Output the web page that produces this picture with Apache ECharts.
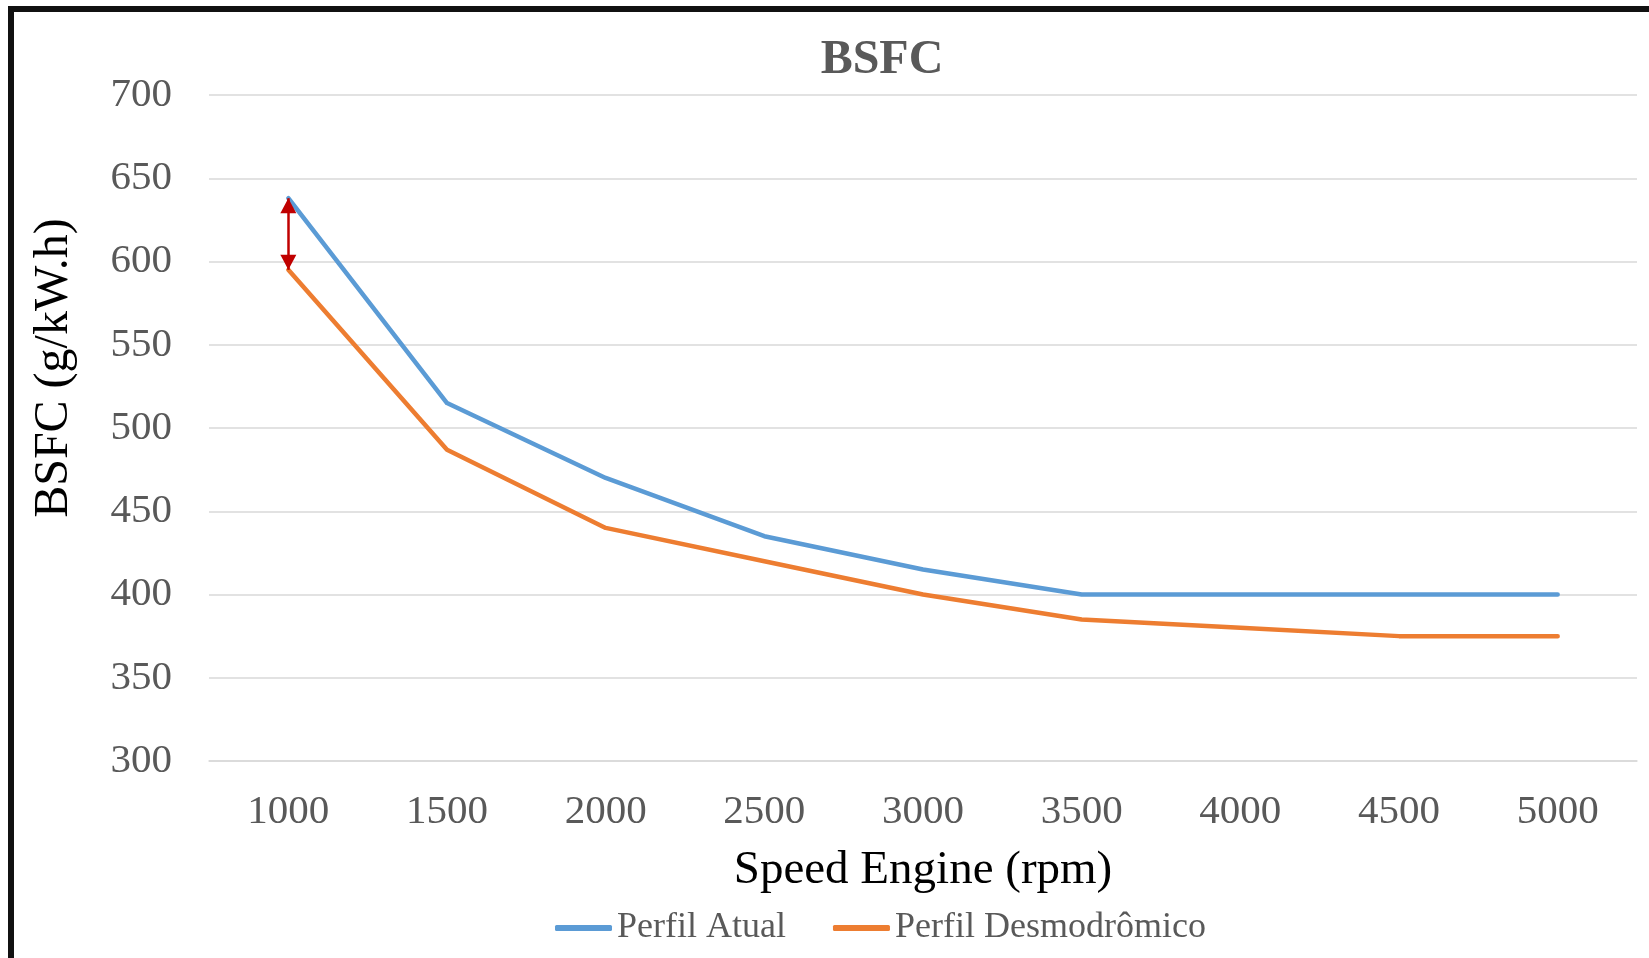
<!DOCTYPE html>
<html>
<head>
<meta charset="utf-8">
<script src="https://cdn.jsdelivr.net/npm/echarts@6/dist/echarts.min.js"></script>
<style>
  html, body { margin: 0; padding: 0; background: #fff; }
  #chart { width: 1649px; height: 958px; }
</style>
</head>
<body>
<div id="chart"></div>
<script>
const categories = ['1000', '1500', '2000', '2500', '3000', '3500', '4000', '4500', '5000'];
const perfilAtual = [638, 515, 470, 435, 415, 400, 400, 400, 400];
const perfilDesmodromico = [595, 487, 440, 420, 400, 385, 380, 375, 375];
const arrowFrom = 595;
const arrowTo = 638;
const yTicks = { min: 300, max: 700, interval: 50 };

const FONT = "'Liberation Serif', 'Times New Roman', serif";
const chart = echarts.init(document.getElementById('chart'), null, { renderer: 'canvas' });

chart.setOption({
  animation: false,
  backgroundColor: '#ffffff',
  title: {
    text: 'BSFC',
    left: 877,
    top: 32,
    textAlign: 'center',
    textStyle: { fontFamily: FONT, fontWeight: 'bold', fontSize: 48, color: '#595959' }
  },
  graphic: [
    { type: 'rect', shape: { x: 8, y: 6, width: 1700, height: 6 }, style: { fill: '#111' }, silent: true },
    { type: 'rect', shape: { x: 8, y: 6, width: 6, height: 1000 }, style: { fill: '#111' }, silent: true },
    {
      type: 'text', x: 54, y: 368, rotation: Math.PI / 2,
      style: {
        text: 'BSFC (g/kW.h)', font: '48px ' + FONT, fill: '#000',
        textAlign: 'center', textVerticalAlign: 'middle'
      },
      silent: true
    }
  ],
  legend: {
    left: 550,
    top: 905,
    itemWidth: 57,
    itemHeight: 6,
    itemGap: 47,
    icon: 'roundRect',
    textStyle: { fontFamily: FONT, fontSize: 36, color: '#595959' },
    data: ['Perfil Atual', 'Perfil Desmodrômico']
  },
  grid: { left: 209, right: 12, top: 95, bottom: 197, containLabel: false },
  xAxis: {
    type: 'category',
    data: categories,
    boundaryGap: true,
    name: 'Speed Engine (rpm)',
    nameLocation: 'middle',
    nameGap: 86,
    nameTextStyle: { fontFamily: FONT, fontSize: 47, color: '#000' },
    axisLine: { show: true, lineStyle: { color: '#D9D9D9', width: 1.5 } },
    axisTick: { show: false },
    axisLabel: { fontFamily: FONT, fontSize: 41, color: '#595959', margin: 31 }
  },
  yAxis: {
    type: 'value',
    min: yTicks.min,
    max: yTicks.max,
    interval: yTicks.interval,
    axisLine: { show: false },
    axisTick: { show: false },
    axisLabel: { fontFamily: FONT, fontSize: 41, color: '#595959', margin: 37 },
    splitLine: { lineStyle: { color: '#D9D9D9', width: 1.5 } }
  },
  series: [
    {
      name: 'Perfil Atual',
      type: 'line',
      data: perfilAtual,
      symbol: 'none',
      lineStyle: { color: '#5B9BD5', width: 4.5, cap: 'round', join: 'round' },
      itemStyle: { color: '#5B9BD5' },
      z: 3
    },
    {
      name: 'Perfil Desmodrômico',
      type: 'line',
      data: perfilDesmodromico,
      symbol: 'none',
      lineStyle: { color: '#ED7D31', width: 4.5, cap: 'round', join: 'round' },
      itemStyle: { color: '#ED7D31' },
      z: 2,
      markLine: {
        silent: true,
        animation: false,
        z: 5,
        symbol: ['triangle', 'triangle'],
        symbolSize: [16, 15],
        symbolOffset: [[0, 7.5], [0, 7.5]],
        label: { show: false },
        lineStyle: { color: '#C00000', width: 2.5, type: 'solid' },
        emphasis: { disabled: true },
        data: [[{ coord: [categories[0], arrowFrom] }, { coord: [categories[0], arrowTo] }]]
      }
    }
  ]
});
</script>
</body>
</html>
